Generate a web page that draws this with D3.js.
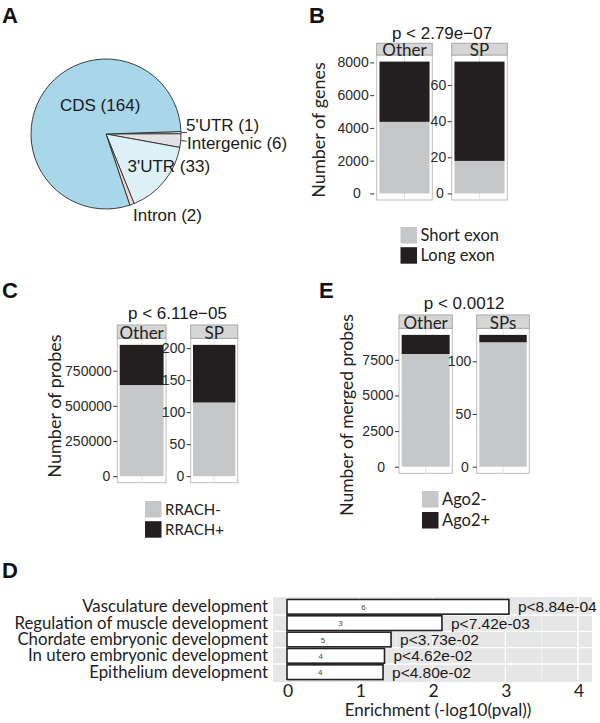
<!DOCTYPE html>
<html><head><meta charset="utf-8">
<script src="https://cdn.jsdelivr.net/npm/d3@7"></script>
<style>html,body{margin:0;padding:0;background:#fff;}svg{display:block;}</style>
</head><body>
<svg id="c" width="600" height="723"></svg>
<script>
// ---------- DATA ----------
const pieCategories = ["5'UTR", "Intergenic", "3'UTR", "Intron", "CDS"];
const pieCounts = [1, 6, 33, 2, 164];

const bFacets = ["Other", "SP"];
const bShortExon = [4370, 18];
const bLongExon = [3680, 55];
const bTicks = [[0, 2000, 4000, 6000, 8000], [0, 20, 40, 60]];
const bLegend = ["Short exon", "Long exon"];
const bP = "p < 2.79e\u221207";

const cFacets = ["Other", "SP"];
const cRrachNeg = [648000, 115];
const cRrachPos = [286000, 90];
const cTicks = [[0, 250000, 500000, 750000], [0, 50, 100, 150, 200]];
const cLegend = ["RRACH-", "RRACH+"];
const cP = "p < 6.11e\u221205";

const eFacets = ["Other", "SPs"];
const eAgoNeg = [7910, 118];
const eAgoPos = [1340, 7];
const eTicks = [[0, 2500, 5000, 7500], [0, 50, 100]];
const eLegend = ["Ago2-", "Ago2+"];
const eP = "p < 0.0012";

const goTerms = ["Vasculature development", "Regulation of muscle development",
  "Chordate embryonic development", "In utero embryonic development", "Epithelium development"];
const goEnrichment = [3.05, 2.13, 1.43, 1.34, 1.32];
const goCounts = [6, 3, 5, 4, 4];
const goPvalLabels = ["p<8.84e-04", "p<7.42e-03", "p<3.73e-02", "p<4.62e-02", "p<4.80e-02"];
const goTicks = [0, 1, 2, 3, 4];

// ---------- STYLE ----------
const HELV = "'Liberation Sans', Arial, sans-serif";
const MYR = "Lato, 'Open Sans', sans-serif";
const LIGHT = "#c6c7c8", DARK = "#231f20";

const svg = d3.select("#c");

// panel letters
[["A", 2, 23], ["B", 309, 23], ["C", 2, 298], ["E", 319, 298], ["D", 2, 578]].forEach(([t, x, y]) =>
  svg.append("text").attr("x", x).attr("y", y).text(t)
    .attr("font-family", HELV).attr("font-weight", "bold").attr("font-size", 22).attr("fill", "#111"));

// ---------- PANEL A : pie ----------
(function () {
  const cx = 106, cy = 134, r = 75;
  const colors = d3.scaleOrdinal().domain(pieCategories)
    .range(["#f3f3f3", "#e2e2e3", "#dff1f8", "#f5d6d0", "#a9d7ea"]);
  const start = (90 - 1.9) * Math.PI / 180;
  const pie = d3.pie().sort(null).value(d => d).startAngle(start).endAngle(start + 2 * Math.PI);
  const arcs = pie(pieCounts);
  const arc = d3.arc().innerRadius(0).outerRadius(r);
  const g = svg.append("g").attr("transform", `translate(${cx},${cy})`);
  g.selectAll("path").data(arcs).join("path")
    .attr("d", arc).attr("fill", (d, i) => colors(pieCategories[i]))
    .attr("stroke", "#2b2b2b").attr("stroke-width", 0.9).attr("stroke-linejoin", "round");
  [0, 1].forEach(i => {
    const a = (arcs[i].startAngle + arcs[i].endAngle) / 2;
    const p1 = [Math.sin(a) * r, -Math.cos(a) * r], p2 = [Math.sin(a) * (r + 6), -Math.cos(a) * (r + 6)];
    g.append("line").attr("x1", p1[0]).attr("y1", p1[1]).attr("x2", p2[0]).attr("y2", p2[1])
      .attr("stroke", "#2b2b2b").attr("stroke-width", 0.9);
  });
  const labelPos = [[186, 130.5], [187, 149], [127.5, 171.5], [133, 220.5], [60, 110.5]];
  pieCategories.forEach((c, i) => {
    svg.append("text").attr("x", labelPos[i][0]).attr("y", labelPos[i][1])
      .text(`${c} (${pieCounts[i]})`)
      .attr("font-family", HELV).attr("font-size", 17).attr("fill", "#1a1a1a");
  });
})();

// ---------- facet stacked bars (B, C, E) ----------
function facetBars(cfg) {
  const { facets, lower, upper, ticks, legend, ptext, L } = cfg;
  facets.forEach((f, i) => {
    const x0 = L.px[i][0], x1 = L.px[i][1];
    const total = lower[i] + upper[i];
    const y = d3.scaleLinear().domain([-0.05 * total, 1.05 * total]).range([L.pBot, L.pTop]);
    const xb = d3.scaleBand().domain([f]).range([x0, x1]).paddingInner(0).paddingOuter(0.055);
    const g = svg.append("g");
    g.append("rect").attr("x", x0).attr("y", L.pTop).attr("width", x1 - x0).attr("height", L.pBot - L.pTop)
      .attr("fill", "#fff").attr("stroke", "#bdbdbd").attr("stroke-width", 1);
    g.append("line").attr("x1", (x0 + x1) / 2).attr("x2", (x0 + x1) / 2).attr("y1", L.pTop).attr("y2", L.pBot)
      .attr("stroke", "#e3e3e3").attr("stroke-width", 1);
    const stack = [[0, lower[i], LIGHT], [lower[i], total, DARK]];
    g.selectAll("rect.bar").data(stack).join("rect").attr("class", "bar")
      .attr("x", xb(f)).attr("width", xb.bandwidth())
      .attr("y", d => y(d[1])).attr("height", d => y(d[0]) - y(d[1]))
      .attr("fill", d => d[2]);
    g.append("rect").attr("x", x0).attr("y", L.sTop).attr("width", x1 - x0).attr("height", L.pTop - L.sTop)
      .attr("fill", "#d6d6d6").attr("stroke", "#a8a8a8").attr("stroke-width", 1);
    g.append("text").attr("x", (x0 + x1) / 2).attr("y", L.pTop + 0.5).attr("text-anchor", "middle")
      .text(f).attr("font-family", MYR).attr("font-size", 17).attr("fill", "#222");
    const ax = svg.append("g").attr("transform", `translate(${x0 - L.tickGap[i]},0)`)
      .call(d3.axisLeft(y).tickValues(ticks[i]).tickSize(4).tickPadding(1.5).tickFormat(d3.format("d")));
    ax.select(".domain").remove();
    ax.selectAll(".tick line").attr("stroke", "#333");
    ax.selectAll(".tick text").attr("font-family", HELV).attr("font-size", 14).attr("fill", "#2a2a2a")
      .attr("dx", d => d === 0 ? -L.zeroShift[i] : 0);
  });
  svg.append("text").attr("x", (L.px[0][0] + L.px[1][1]) / 2).attr("y", L.pY).attr("text-anchor", "middle")
    .text(ptext).attr("font-family", HELV).attr("font-size", 17).attr("fill", "#1a1a1a");
  svg.append("text").attr("transform", `translate(${L.yt[0]},${L.yt[1]}) rotate(-90)`).attr("text-anchor", "middle")
    .text(cfg.ytitle).attr("font-family", MYR).attr("font-size", L.ytFs).attr("fill", "#222");
  const lg = d3.scaleOrdinal().domain(legend).range([LIGHT, DARK]);
  legend.forEach((t, k) => {
    const yy = L.lg[1] + k * L.lgStep;
    svg.append("rect").attr("x", L.lg[0]).attr("y", yy).attr("width", 16.5).attr("height", 16.5).attr("fill", lg(t));
    svg.append("text").attr("x", L.lg[0] + 20).attr("y", yy + 14).text(t)
      .attr("font-family", MYR).attr("font-size", L.lgFs).attr("fill", "#222");
  });
}

facetBars({
  facets: bFacets, lower: bShortExon, upper: bLongExon, ticks: bTicks, legend: bLegend, ptext: bP,
  ytitle: "Number of genes",
  L: { px: [[376.7, 432.3], [451.7, 507.3]], sTop: 43.3, pTop: 55, pBot: 200, pY: 38.5,
       tickGap: [2.5, 0], zeroShift: [8, 2.5], yt: [325, 130], ytFs: 18, lg: [400.5, 227], lgStep: 20.2, lgFs: 16.5 }
});
facetBars({
  facets: cFacets, lower: cRrachNeg, upper: cRrachPos, ticks: cTicks, legend: cLegend, ptext: cP,
  ytitle: "Number of probes",
  L: { px: [[117.3, 166], [190.7, 237.7]], sTop: 325, pTop: 338.3, pBot: 482.7, pY: 319,
       tickGap: [0, 0], zeroShift: [1.5, 1], yt: [61, 406], ytFs: 18, lg: [145, 501], lgStep: 20.2, lgFs: 15 }
});
facetBars({
  facets: eFacets, lower: eAgoNeg, upper: eAgoPos, ticks: eTicks, legend: eLegend, ptext: eP,
  ytitle: "Number of merged probes",
  L: { px: [[399, 452.3], [476.7, 529.3]], sTop: 315, pTop: 328.3, pBot: 473.3, pY: 308.5,
       tickGap: [0, 0], zeroShift: [8.5, 2.5], yt: [353, 415], ytFs: 17.5, lg: [422, 491], lgStep: 21, lgFs: 16.5 }
});

// ---------- PANEL D : GO enrichment ----------
(function () {
  const left = 273, right = 592, top = 597, bot = 682;
  const x = d3.scaleLinear().domain([0, 4]).range([287, 578]);
  const y = d3.scaleBand().domain(goTerms).range([top, bot]).paddingInner(0.1).paddingOuter(0.15);
  const g = svg.append("g");
  g.append("rect").attr("x", left).attr("y", top).attr("width", right - left).attr("height", bot - top).attr("fill", "#e6e6e6");
  d3.range(0.5, 4.2, 1).forEach(v => g.append("line").attr("x1", x(v)).attr("x2", x(v)).attr("y1", top).attr("y2", bot)
    .attr("stroke", "#f6f6f6").attr("stroke-width", 0.7));
  goTicks.forEach(v => g.append("line").attr("x1", x(v)).attr("x2", x(v)).attr("y1", top).attr("y2", bot)
    .attr("stroke", "#fff").attr("stroke-width", 1.4));
  const step = y.step();
  goTerms.slice(1).forEach(t => {
    const yy = y(t) - step * 0.05;
    g.append("line").attr("x1", left).attr("x2", right).attr("y1", yy).attr("y2", yy).attr("stroke", "#fff").attr("stroke-width", 1.4);
  });
  g.selectAll("rect.bar").data(goTerms).join("rect").attr("class", "bar")
    .attr("x", x(0)).attr("y", d => y(d)).attr("height", y.bandwidth())
    .attr("width", (d, i) => x(goEnrichment[i]) - x(0))
    .attr("fill", "#fff").attr("stroke", "#222").attr("stroke-width", 1.6);
  goTerms.forEach((t, i) => {
    const cy = y(t) + y.bandwidth() / 2;
    g.append("text").attr("x", x(goEnrichment[i] * 0.345)).attr("y", cy + 3).attr("text-anchor", "middle")
      .text(goCounts[i]).attr("font-family", HELV).attr("font-size", 8).attr("fill", "#444");
    g.append("text").attr("x", x(goEnrichment[i]) + 9).attr("y", cy + 5.5)
      .text(goPvalLabels[i]).attr("font-family", HELV).attr("font-size", 15.5).attr("fill", "#1a1a1a");
    g.append("text").attr("x", 268).attr("y", cy + 5.5).attr("text-anchor", "end")
      .text(t).attr("font-family", MYR).attr("font-size", 16.8).attr("fill", "#222");
  });
  goTicks.forEach(v => g.append("text").attr("x", x(v) + 1).attr("y", 697).attr("text-anchor", "middle")
    .text(v).attr("font-family", MYR).attr("font-size", 17.5).attr("fill", "#222"));
  g.append("text").attr("x", 438).attr("y", 715.5).attr("text-anchor", "middle")
    .text("Enrichment (-log10(pval))").attr("font-family", MYR).attr("font-size", 17).attr("fill", "#222");
})();
</script>
</body></html>
